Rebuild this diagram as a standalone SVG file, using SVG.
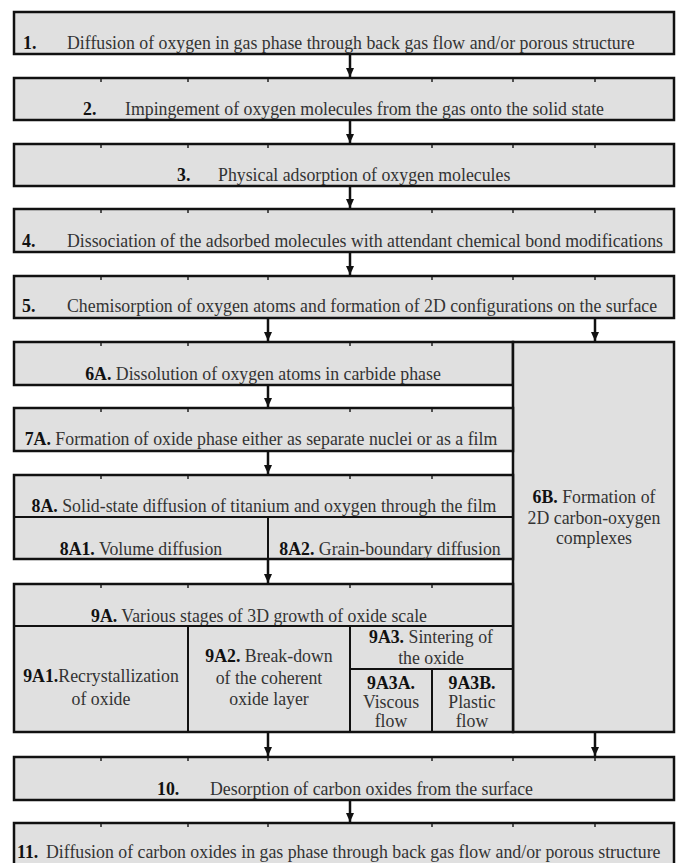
<svg xmlns="http://www.w3.org/2000/svg" width="681" height="863" viewBox="0 0 681 863">
<defs>
<style>
.box{fill:#e0e0e0;stroke:#111;stroke-width:2.5}
.div{fill:none;stroke:#111;stroke-width:2}
.t{font-family:"Liberation Serif","Times New Roman",serif;font-size:17.8px;fill:#333}
.c{text-anchor:middle}
.b{font-weight:bold;fill:#111}
.ln{stroke:#111;stroke-width:2.5;fill:none}
.tick{stroke:#222;stroke-width:1.5}
</style>
<marker id="ah" markerWidth="9" markerHeight="8" refX="9" refY="4" orient="auto" markerUnits="userSpaceOnUse" viewBox="0 0 9 8">
<path d="M0,0 L9,4 L0,8 Z" fill="#111"/>
</marker>
</defs>
<rect width="681" height="863" fill="#fff"/>

<g id="n1">
<rect class="box" x="14" y="12" width="660" height="42"/>
<text class="t" y="49"><tspan class="b" x="23">1.</tspan><tspan x="67">Diffusion of oxygen in gas phase through back gas flow and/or porous structure</tspan></text>
</g>
<g id="n2">
<rect class="box" x="14" y="78" width="660" height="42"/>
<text class="t" y="115"><tspan class="b" x="83">2.</tspan><tspan x="125">Impingement of oxygen molecules from the gas onto the solid state</tspan></text>
</g>
<g id="n3">
<rect class="box" x="14" y="144" width="660" height="42"/>
<text class="t" y="181"><tspan class="b" x="177">3.</tspan><tspan x="218">Physical adsorption of oxygen molecules</tspan></text>
</g>
<g id="n4">
<rect class="box" x="14" y="209" width="660" height="43"/>
<text class="t" y="247"><tspan class="b" x="22">4.</tspan><tspan x="67">Dissociation of the adsorbed molecules with attendant chemical bond modifications</tspan></text>
</g>
<g id="n5">
<rect class="box" x="14" y="276" width="660" height="42"/>
<text class="t" y="312"><tspan class="b" x="22">5.</tspan><tspan x="67">Chemisorption of oxygen atoms and formation of 2D configurations on the surface</tspan></text>
</g>
<g id="n6A">
<rect class="box" x="14" y="342" width="499" height="43"/>
<text class="t c" x="263" y="380"><tspan class="b">6A.</tspan> Dissolution of oxygen atoms in carbide phase</text>
</g>
<g id="n6B">
<rect class="box" x="513" y="342" width="161" height="390"/>
<text class="t c" x="594" y="503"><tspan class="b">6B.</tspan> Formation of</text>
<text class="t c" x="594" y="524">2D carbon-oxygen</text>
<text class="t c" x="594" y="544">complexes</text>
</g>
<g id="n7A">
<rect class="box" x="14" y="408" width="499" height="43"/>
<text class="t c" x="261" y="445"><tspan class="b">7A.</tspan> Formation of oxide phase either as separate nuclei or as a film</text>
</g>
<g id="n8A">
<rect class="box" x="14" y="475" width="499" height="84"/>
<text class="t c" x="264" y="512"><tspan class="b">8A.</tspan> Solid-state diffusion of titanium and oxygen through the film</text>
<path class="div" d="M14,517 H513 M268,517 V559"/>
</g>
<g id="n8A1">
<text class="t c" x="141" y="555"><tspan class="b">8A1.</tspan> Volume diffusion</text>
</g>
<g id="n8A2">
<text class="t c" x="390" y="555"><tspan class="b">8A2.</tspan> Grain-boundary diffusion</text>
</g>
<g id="n9A">
<rect class="box" x="14" y="584" width="499" height="148"/>
<text class="t c" x="259" y="622"><tspan class="b">9A.</tspan> Various stages of 3D growth of oxide scale</text>
<path class="div" d="M14,626 H513 M188,626 V732 M350,626 V732 M350,669 H513 M432,669 V732"/>
</g>
<g id="n9A1">
<text class="t c" x="101" y="682"><tspan class="b">9A1.</tspan>Recrystallization</text>
<text class="t c" x="101" y="705">of oxide</text>
</g>
<g id="n9A2">
<text class="t c" x="269" y="662"><tspan class="b">9A2.</tspan> Break-down</text>
<text class="t c" x="269" y="684">of the coherent</text>
<text class="t c" x="269" y="705">oxide layer</text>
</g>
<g id="n9A3">
<text class="t c" x="431" y="643"><tspan class="b">9A3.</tspan> Sintering of</text>
<text class="t c" x="431" y="664">the oxide</text>
</g>
<g id="n9A3A">
<text class="t c b" x="391" y="689">9A3A.</text>
<text class="t c" x="391" y="708">Viscous</text>
<text class="t c" x="391" y="727">flow</text>
</g>
<g id="n9A3B">
<text class="t c b" x="472" y="689">9A3B.</text>
<text class="t c" x="472" y="708">Plastic</text>
<text class="t c" x="472" y="727">flow</text>
</g>
<g id="n10">
<rect class="box" x="14" y="757" width="660" height="43"/>
<text class="t" y="795"><tspan class="b" x="157">10.</tspan><tspan x="210">Desorption of carbon oxides from the surface</tspan></text>
</g>
<g id="n11">
<rect class="box" x="14" y="823" width="660" height="50"/>
<text class="t" y="858"><tspan class="b" x="17">11.</tspan><tspan x="46">Diffusion of carbon oxides in gas phase through back gas flow and/or porous structure</tspan></text>
</g>

<g id="ticks">
<path class="tick" d="M101,79 v3 M188,79 v3 M268,79 v3 M432,79 v3 M513,79 v3 M595,79 v3
M101,145 v3 M188,145 v3 M268,145 v3 M432,145 v3 M513,145 v3 M595,145 v3
M101,210 v3 M188,210 v3 M268,210 v3 M432,210 v3 M513,210 v3 M595,210 v3
M101,277 v3 M188,277 v3 M268,277 v3 M432,277 v3 M513,277 v3 M595,277 v3
M101,343 v3 M188,343 v3 M350,343 v3 M432,343 v3
M101,409 v3 M188,409 v3 M350,409 v3 M432,409 v3
M101,476 v3 M188,476 v3 M350,476 v3 M432,476 v3
M101,585 v3 M188,585 v3 M350,585 v3 M432,585 v3
M101,758 v3 M188,758 v3 M268,758 v3 M432,758 v3 M513,758 v3 M595,758 v3
M101,824 v3 M188,824 v3 M268,824 v3 M432,824 v3 M513,824 v3 M595,824 v3"/>
</g>

<g id="connectors">
<path class="ln" d="M350,55 V77" marker-end="url(#ah)"/>
<path class="ln" d="M350,121 V143" marker-end="url(#ah)"/>
<path class="ln" d="M350,187 V208" marker-end="url(#ah)"/>
<path class="ln" d="M350,253 V275" marker-end="url(#ah)"/>
<path class="ln" d="M268,319 V341" marker-end="url(#ah)"/>
<path class="ln" d="M595,319 V341" marker-end="url(#ah)"/>
<path class="ln" d="M268,386 V407" marker-end="url(#ah)"/>
<path class="ln" d="M268,452 V474" marker-end="url(#ah)"/>
<path class="ln" d="M268,560 V583" marker-end="url(#ah)"/>
<path class="ln" d="M268,733 V756" marker-end="url(#ah)"/>
<path class="ln" d="M595,733 V756" marker-end="url(#ah)"/>
<path class="ln" d="M350,801 V822" marker-end="url(#ah)"/>
</g>
</svg>
